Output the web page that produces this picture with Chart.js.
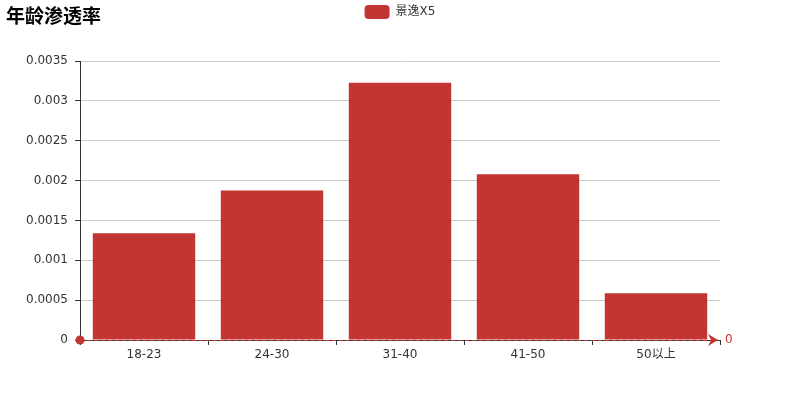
<!DOCTYPE html>
<html><head><meta charset="utf-8">
<script src="https://cdn.jsdelivr.net/npm/chart.js@4"></script>
<style>
html,body{margin:0;padding:0;background:#fff;}
#wrap{position:relative;width:800px;height:400px;}
#title{position:absolute;left:6px;top:1px;font:bold 19px "DejaVu Sans","Noto Sans CJK SC",sans-serif;color:#000;}
</style></head>
<body>
<div id="wrap"><div id="title">年龄渗透率</div><canvas id="c" width="800" height="400"></canvas></div>
<script>
const categories = ['18-23','24-30','31-40','41-50','50以上'];
const seriesName = '景逸X5';
const values = [0.00134, 0.001875, 0.003228, 0.00208, 0.000588];
const markLineValue = 0;
const yTicks = [0,0.0005,0.001,0.0015,0.002,0.0025,0.003,0.0035];
const RED = '#c23531';
const FONT = '"DejaVu Sans","Noto Sans CJK SC",sans-serif';

const markLinePlugin = {
  id:'markLine',
  afterDatasetsDraw(chart){
    const {ctx, chartArea:a, scales:{y}} = chart;
    const py = y.getPixelForValue(markLineValue);
    ctx.save();
    ctx.strokeStyle = RED; ctx.lineWidth = 1; ctx.setLineDash([4,3]);
    ctx.beginPath(); ctx.moveTo(a.left, py+0.5); ctx.lineTo(a.right-4, py+0.5); ctx.stroke();
    ctx.setLineDash([]);
    ctx.fillStyle = RED;
    ctx.beginPath(); ctx.arc(a.left, py, 4.5, 0, Math.PI*2); ctx.fill();
    ctx.beginPath();
    ctx.moveTo(a.right-2, py); ctx.lineTo(a.right-12, py-6); ctx.lineTo(a.right-9, py); ctx.lineTo(a.right-12, py+6); ctx.closePath(); ctx.fill();
    ctx.font = '12px '+FONT; ctx.textBaseline='middle'; ctx.textAlign='left';
    ctx.fillText(String(markLineValue), a.right+5, py);
    ctx.restore();
  }
};

new Chart(document.getElementById('c'), {
  type:'bar',
  data:{labels:categories, datasets:[{label:seriesName, data:values, backgroundColor:RED, borderWidth:0, barPercentage:0.8, categoryPercentage:1, xAxisID:'x', yAxisID:'y'}]},
  options:{
    responsive:false, animation:false,
    layout:{padding:0},
    plugins:{
      legend:{position:'top', align:'center', labels:{boxWidth:25, boxHeight:14, useBorderRadius:true, borderRadius:4, padding:5, color:'#333', font:{family:FONT,size:12}}},
      title:{display:false}, tooltip:{enabled:false}
    },
    scales:{
      x:{
        type:'category', position:'bottom', offset:true,
        grid:{offset:true, drawOnChartArea:false, tickLength:5, tickColor:'#333'},
        border:{color:'#333'},
        ticks:{color:'#333', font:{family:FONT,size:12}, padding:3},
        afterFit(s){ s.height = 60; }
      },
      xTop:{
        type:'category', position:'top', offset:true,
        grid:{display:false, drawOnChartArea:false}, border:{display:false}, ticks:{display:false},
        afterFit(s){ s.height = 32; }
      },
      y:{
        type:'linear', position:'left', min:0, max:0.0035,
        afterBuildTicks(s){ s.ticks = yTicks.map(v=>({value:v})); },
        grid:{color:'#ccc', tickLength:5, tickColor:'#333'},
        border:{color:'#333'},
        ticks:{color:'#333', font:{family:FONT,size:12}, padding:7, callback:v=>String(parseFloat(Number(v).toFixed(4)))},
        afterFit(s){ s.width = 80; }
      },
      yRight:{
        type:'linear', position:'right', min:0, max:1,
        grid:{display:false, drawOnChartArea:false}, border:{display:false}, ticks:{display:false},
        afterFit(s){ s.width = 80; }
      }
    }
  },
  plugins:[markLinePlugin]
});
</script>
</body></html>
